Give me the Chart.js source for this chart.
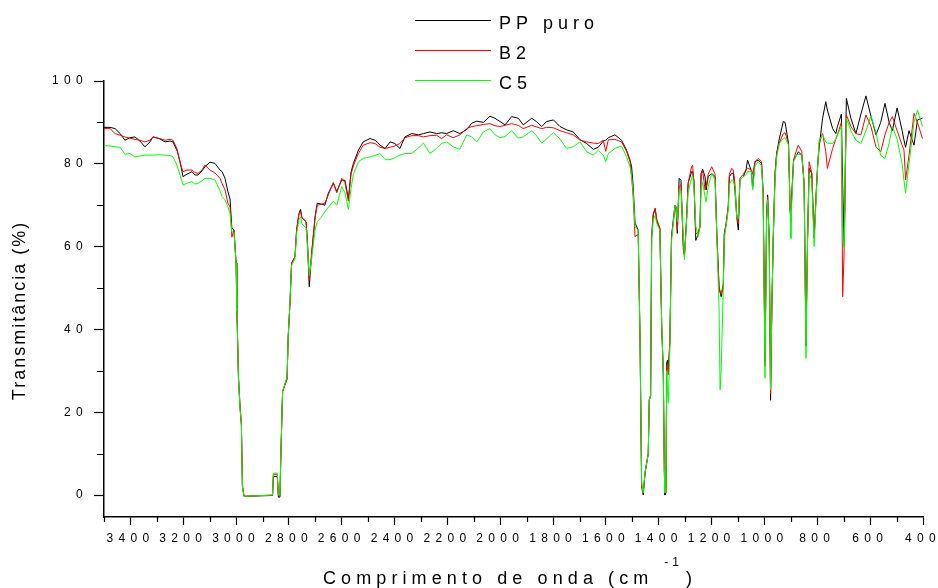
<!DOCTYPE html>
<html>
<head>
<meta charset="utf-8">
<script src="https://cdn.jsdelivr.net/npm/chart.js@4.4.1/dist/chart.umd.min.js"></script>
<style>
html,body{margin:0;padding:0;background:#fff;}
#wrap{width:938px;height:588px;position:relative;}
canvas{display:block;}
</style>
</head>
<body>
<div id="wrap"><canvas id="c" width="938" height="588"></canvas></div>
<script>
// ---- data (wavenumber in cm-1, transmittance in %) ----
const wavenumbers = [
3500,3477,3458,3439,3421,3402,3383,3364,3345,3326,
3315,3288,3269,3250,3239,3224,3212,3201,3186,3167,
3156,3144,3129,3118,3099,3080,3061,3053,3042,3031,
3023,3016,3008,3000,2997,2991,2985,2980,2976,2970,
2862,2859,2844,2840,2834,2830,2824,2807,2803,2796,
2790,2777,2771,2762,2756,2751,2735,2730,2723,2714,
2701,2693,2679,2664,2651,2632,2619,2600,2588,2575,
2565,2556,2537,2519,2493,2474,2455,2436,2417,2399,
2380,2361,2335,2310,2291,2266,2241,2222,2203,2178,
2153,2127,2108,2089,2064,2039,2020,2001,1982,1957,
1932,1913,1881,1863,1843,1825,1799,1774,1749,1724,
1698,1673,1648,1629,1610,1601,1591,1566,1541,1522,
1509,1503,1497,1490,1478,1471,1465,1459,1452,1440,
1436,1431,1427,1421,1414,1407,1396,1389,1383,1379,
1377,1373,1370,1367,1364,1358,1352,1339,1335,1330,
1323,1316,1307,1303,1295,1289,1276,1272,1267,1260,
1251,1244,1240,1234,1225,1221,1213,1200,1187,1181,
1172,1168,1164,1156,1152,1145,1137,1133,1124,1118,
1112,1105,1099,1093,1080,1070,1064,1049,1045,1036,
1024,1011,1005,998,992,988,982,977,972,967,
960,954,944,929,922,909,903,900,897,890,
878,872,859,850,843,837,831,821,812,805,
799,793,780,768,762,742,730,724,709,704,
698,694,690,673,654,635,616,597,578,560,
544,528,516,498,479,472,466,453,434,421,
402
];

const ppPuro = [
88.8,88.8,88.5,87.3,85.7,86.3,86.5,85.5,84.1,85.3,
86.5,86.0,85.3,85.5,85.3,83.3,80.5,76.9,77.5,78.1,
77.3,77.3,78.3,79.3,80.4,80.1,78.5,78.1,76.5,73.3,
71.5,64.5,64.0,56,45,28,21,17,2,-0.3,
-0.1,4.5,4.5,-0.5,-0.5,11,25,28,38,46.5,
56,57.6,64,68,69,67,66,61,50.3,58.4,
67.2,70.5,70.3,70,72.9,75.3,73.3,76.1,76,71.5,
78,80.1,83.3,85.3,86.1,85.7,84.5,83.7,85.3,84.9,
83.7,86.5,87.3,87.0,87.3,87.7,87.3,87.5,87.3,88.0,
87.3,88.3,89.8,90.3,90.0,91.5,91.0,90.2,89.4,91.4,
91.0,89.4,91.0,90.2,89.0,90.2,90.6,89.0,88.2,87.7,
85.8,84.9,83.5,84.0,85.5,85.7,86.3,87.0,85.7,83.3,
80.9,79.3,74.5,65.7,64.0,37.4,2.0,0,5.3,10,
23,24,62.4,67.6,69.2,66,64.4,40.7,29.4,5.3,
0,0.5,31.9,32.6,30,37.4,62.4,70,69.6,63.2,
76.5,76,59.2,58,66.4,75.3,78.1,78.1,76,61.5,
63,64.8,77.7,78.7,76.9,73.7,76.9,77.7,76.9,64,
50.3,49,47.9,50.3,63.2,65.6,69.6,76.9,77.7,77.7,
73.7,67.2,64,76.1,76.9,78.5,80.9,78.1,74,80.5,
80.9,80.1,72.9,32,68,72.5,61.6,22.9,45.5,61.6,
77.7,82.5,86,90.2,90.0,84.9,68.8,67,72,80.9,
82.1,82.9,82.1,75.3,36,61.6,78.9,77.7,62,72,
79.3,84.1,91,95,93,88.5,87.3,89,92,75,
60,80,95.8,91,87.3,92,96.4,91.5,87,90,
94.6,90,88,93.5,88,85.7,84,88,84.5,90.6,
91
];

const b2 = [
88.5,88.5,87.3,86.9,86.5,86.2,85.9,85.7,85.3,85.7,
86.5,86.1,85.7,85.9,85.7,83.7,80.2,78.1,78.5,78.5,
77.9,77.7,78.5,79.7,78.5,77.8,76.5,75.2,73.7,70.5,
69.6,62.3,64.0,56,45.5,29,21.5,17.5,2.5,-0.3,
0,5,5,0,0,11,25,28.5,38,46.5,
56,57.6,64,68,68.5,67,66,61,52,58.4,
67,70,70.2,70.5,72.5,75.5,73,76.5,75.5,71,
77.5,79.5,82.5,84.5,85.1,84.9,84.0,83.7,84.0,84.3,
84.9,86.3,86.8,86.8,86.5,86.8,86.9,86.1,87.0,86.3,
87.0,88.5,89.0,89.2,89.5,89.7,89.2,89.0,89.3,89.7,
89.3,88.5,89.3,88.9,88.5,88.8,88.7,88.0,87.5,87.0,
85.7,85.3,85.0,84.9,85.7,83.0,85.8,85.9,85.3,83.0,
80.5,77.0,72.0,62.4,63.0,37,2.5,0.5,5.5,10,
23,24,63,68,69.2,66.5,64.5,41,30,6,
0.5,1,31,31,29,37,62.4,69,69.6,64,
74.5,75,60,57.5,66.4,75.3,79.3,79.7,75.3,63,
63.5,65,77.5,78.3,73.7,74.5,77.5,79.3,77.5,64,
50.3,49,48.5,51,63,65.6,70,77.5,78.9,78.5,
75.3,68,65.5,76.5,77.5,78.5,79,78.5,77.5,80.5,
81.3,80.5,73,31,67,72,61,24.5,45.5,61.6,
77.7,82.5,85,87.3,87.5,84.9,69,66,72,80.9,
83.5,84.5,83,75.3,38,61.6,80.5,77.7,62,72,
79.3,85,87.3,83,78.9,83.7,86,87,90,47.9,
60,78,91.8,89,87.3,87,91.8,89,84.1,82.9,
87,90,91.4,88,84.5,83.3,76.1,82,92.2,90,
86.1
];

const c5 = [
84.4,84.3,84.1,84.0,82.3,82.5,81.7,81.9,82.1,82.1,
82.1,82.2,82.1,82.0,81.7,79.7,77.3,74.9,75.3,75.7,
75.1,75.3,75.9,76.5,76.5,76.1,73.5,72.1,71.3,69.6,
68.0,63.5,63.5,56,44.5,28,21,17,2,-0.3,
0,5.3,5.3,0,0,11,25,28.5,38,46.5,
55.5,57,63,66.5,67.2,65.5,64.5,60,53,57,
64,66,67,68.4,69.5,71,70,74.5,73,69,
74,77.5,80.5,81.3,81.7,82.0,82.5,81.0,81.0,81.5,
82.1,82.5,82.5,83.8,85.0,82.5,83.7,84.9,85.3,84.1,
83.5,87.0,86.5,85.3,87.7,88.5,87.0,86.3,86.6,88.0,
86.2,86.5,88.0,86.8,85.0,86.0,87.5,86.0,83.7,84.1,
85.3,82.9,82.1,83.3,82.1,80.5,82.5,83.7,84.3,81.7,
79.3,77.0,73.0,64.8,64.0,37.5,3,0.5,5.5,10,
23,24,62,66.5,67.5,65.5,64,41,30,6,
0.5,1,30,25,22.2,36,61,70,69.5,66,
73.9,73.5,62,56.8,66,73,76.5,77.3,74.5,65,
62.4,64.8,74,75.5,72,70.8,74.5,77.7,76.1,64,
45,25.4,30,50,62,65,69,75,76.1,76,
74.5,67,66.8,76,76.9,77.3,78.1,78.1,73.7,79.5,
80.5,79.5,72.5,28.2,66,71.3,61,25.4,45.5,61.6,
76.1,81.5,84.9,86.1,86.3,84.5,68.8,62,70,80.5,
82.1,82.3,82.1,75.3,33,61.6,77.7,76,60,71,
79,85.7,87,85.3,85,84.9,86,87,89,62,
59.6,80,91,88,85.7,84.9,88,91.5,87.5,82,
81.3,85,89,86,80,76,72.9,80,90,93,
89
];

const seriesLabels = ['PP puro', 'B2', 'C5'];
const seriesColors = ['#000000', '#ff0000', '#00ff00'];

const xMajorTicks = [3400,3200,3000,2800,2600,2400,2200,2000,1800,1600,1400,1200,1000,800,600,400];
const xMinorTicks = [3500,3300,3100,2900,2700,2500,2300,2100,1900,1700,1500,1300,1100,900,700,500];
const yMajorTicks = [0,20,40,60,80,100];
const yMinorTicks = [10,30,50,70,90];

const yTitle = 'Transmitância (%)';
const xTitleMain = 'Comprimento de onda (cm';
const xTitleSup = '-1';
const xTitleClose = ')';

// ---- styling constants ----
const FONT = '"Liberation Sans", Arial, Helvetica, sans-serif';
const TICK_LS = 5.3;

// does canvas letterSpacing add space after the last glyph?
const trailingLs = (() => {
  const t = document.createElement('canvas').getContext('2d');
  t.font = '12px ' + FONT;
  t.letterSpacing = '0px';
  const w0 = t.measureText('0').width;
  t.letterSpacing = '10px';
  const w1 = t.measureText('0').width;
  return (w1 - w0) > 5;
})();
const yTickPadding = trailingLs ? 6 : 6 + TICK_LS;

Chart.defaults.font.family = FONT;
Chart.defaults.color = '#000';

const datasets = [ppPuro, b2, c5].map((vals, s) => ({
  label: seriesLabels[s],
  data: wavenumbers.map((w, i) => ({x: w, y: vals[i]})),
  borderColor: seriesColors[s],
  backgroundColor: seriesColors[s],
  borderWidth: 1,
  pointRadius: 0,
  tension: 0,
  fill: false,
  order: 2 - s
}));

const extras = {
  id: 'extras',
  beforeDraw(chart) {
    chart.ctx.letterSpacing = TICK_LS + 'px';
  },
  afterDraw(chart) {
    const ctx = chart.ctx;
    const xs = chart.scales.x, ys = chart.scales.y, area = chart.chartArea;
    ctx.save();
    ctx.letterSpacing = '0px';
    // minor ticks
    ctx.strokeStyle = '#000';
    ctx.lineWidth = 1.2;
    ctx.beginPath();
    xMinorTicks.forEach(v => {
      const px = Math.round(xs.getPixelForValue(v)) + 0.5;
      ctx.moveTo(px, area.bottom);
      ctx.lineTo(px, area.bottom + 5);
    });
    yMinorTicks.forEach(v => {
      const py = Math.round(ys.getPixelForValue(v)) + 0.5;
      ctx.moveTo(area.left - 7, py);
      ctx.lineTo(area.left, py);
    });
    ctx.stroke();

    // legend
    chart.data.datasets.forEach((ds, i) => {
      const ly = 20.5 + 30 * i;
      ctx.strokeStyle = ds.borderColor;
      ctx.lineWidth = 1;
      ctx.beginPath();
      ctx.moveTo(415, ly);
      ctx.lineTo(491, ly);
      ctx.stroke();
      ctx.fillStyle = '#000';
      ctx.font = '18px ' + FONT;
      ctx.letterSpacing = '5px';
      ctx.textAlign = 'left';
      ctx.textBaseline = 'alphabetic';
      ctx.fillText(ds.label, 499, ly + 8.5);
    });

    // y title
    ctx.save();
    ctx.translate(20, 311.5);
    ctx.rotate(-Math.PI / 2);
    ctx.font = '18px ' + FONT;
    ctx.letterSpacing = '2px';
    ctx.textAlign = 'center';
    ctx.textBaseline = 'middle';
    ctx.fillStyle = '#000';
    ctx.fillText(yTitle, trailingLs ? 1 : 0, 0);
    ctx.restore();

    // x title with superscript
    ctx.fillStyle = '#000';
    ctx.textAlign = 'left';
    ctx.textBaseline = 'alphabetic';
    ctx.font = '18px ' + FONT;
    const mainLs = 5.1;
    ctx.letterSpacing = mainLs + 'px';
    const x0 = 323;
    ctx.fillText(xTitleMain, x0, 584);
    let visEnd = x0 + ctx.measureText(xTitleMain).width - (trailingLs ? mainLs : 0);
    ctx.font = '12px ' + FONT;
    const supLs = 4;
    ctx.letterSpacing = supLs + 'px';
    const xs2 = visEnd + 16;
    ctx.fillText(xTitleSup, xs2, 565.5);
    visEnd = xs2 + ctx.measureText(xTitleSup).width - (trailingLs ? supLs : 0);
    ctx.font = '18px ' + FONT;
    ctx.letterSpacing = '0px';
    ctx.fillText(xTitleClose, visEnd + 7, 584);

    ctx.restore();
    ctx.letterSpacing = '0px';
  }
};

new Chart(document.getElementById('c'), {
  type: 'line',
  data: { datasets },
  options: {
    responsive: false,
    animation: false,
    devicePixelRatio: 1,
    parsing: false,
    layout: { padding: { top: 81, right: 15, bottom: 0, left: 0 } },
    plugins: { legend: { display: false }, tooltip: { enabled: false } },
    scales: {
      x: {
        type: 'linear',
        reverse: true,
        min: 400,
        max: 3500,
        afterBuildTicks: s => { s.ticks = xMinorTicks.concat(xMajorTicks).sort((a, b) => a - b).map(v => ({value: v})); },
        afterFit: s => { s.height = 71; },
        ticks: {
          autoSkip: false,
          maxRotation: 0,
          minRotation: 0,
          padding: 6,
          color: '#000',
          font: { size: 12, family: FONT },
          callback: v => xMajorTicks.includes(v) ? String(v) : ''
        },
        grid: {
          drawOnChartArea: false,
          drawTicks: true,
          tickLength: 8,
          tickWidth: 1.2,
          tickColor: c => (c.tick && xMajorTicks.includes(c.tick.value)) ? '#000' : 'rgba(0,0,0,0)'
        },
        border: { display: true, color: '#000', width: 1.5 }
      },
      y: {
        type: 'linear',
        min: -5.3,
        max: 100,
        afterBuildTicks: s => { s.ticks = yMinorTicks.concat(yMajorTicks).sort((a, b) => a - b).map(v => ({value: v})); },
        afterFit: s => { s.width = 104; },
        ticks: {
          autoSkip: false,
          padding: yTickPadding,
          color: '#000',
          font: { size: 12, family: FONT },
          callback: v => yMajorTicks.includes(v) ? String(v) : ''
        },
        grid: {
          drawOnChartArea: false,
          drawTicks: true,
          tickLength: 10,
          tickWidth: 1.2,
          tickColor: c => (c.tick && yMajorTicks.includes(c.tick.value)) ? '#000' : 'rgba(0,0,0,0)'
        },
        border: { display: true, color: '#000', width: 1.5 }
      }
    }
  },
  plugins: [extras]
});
</script>
</body>
</html>
